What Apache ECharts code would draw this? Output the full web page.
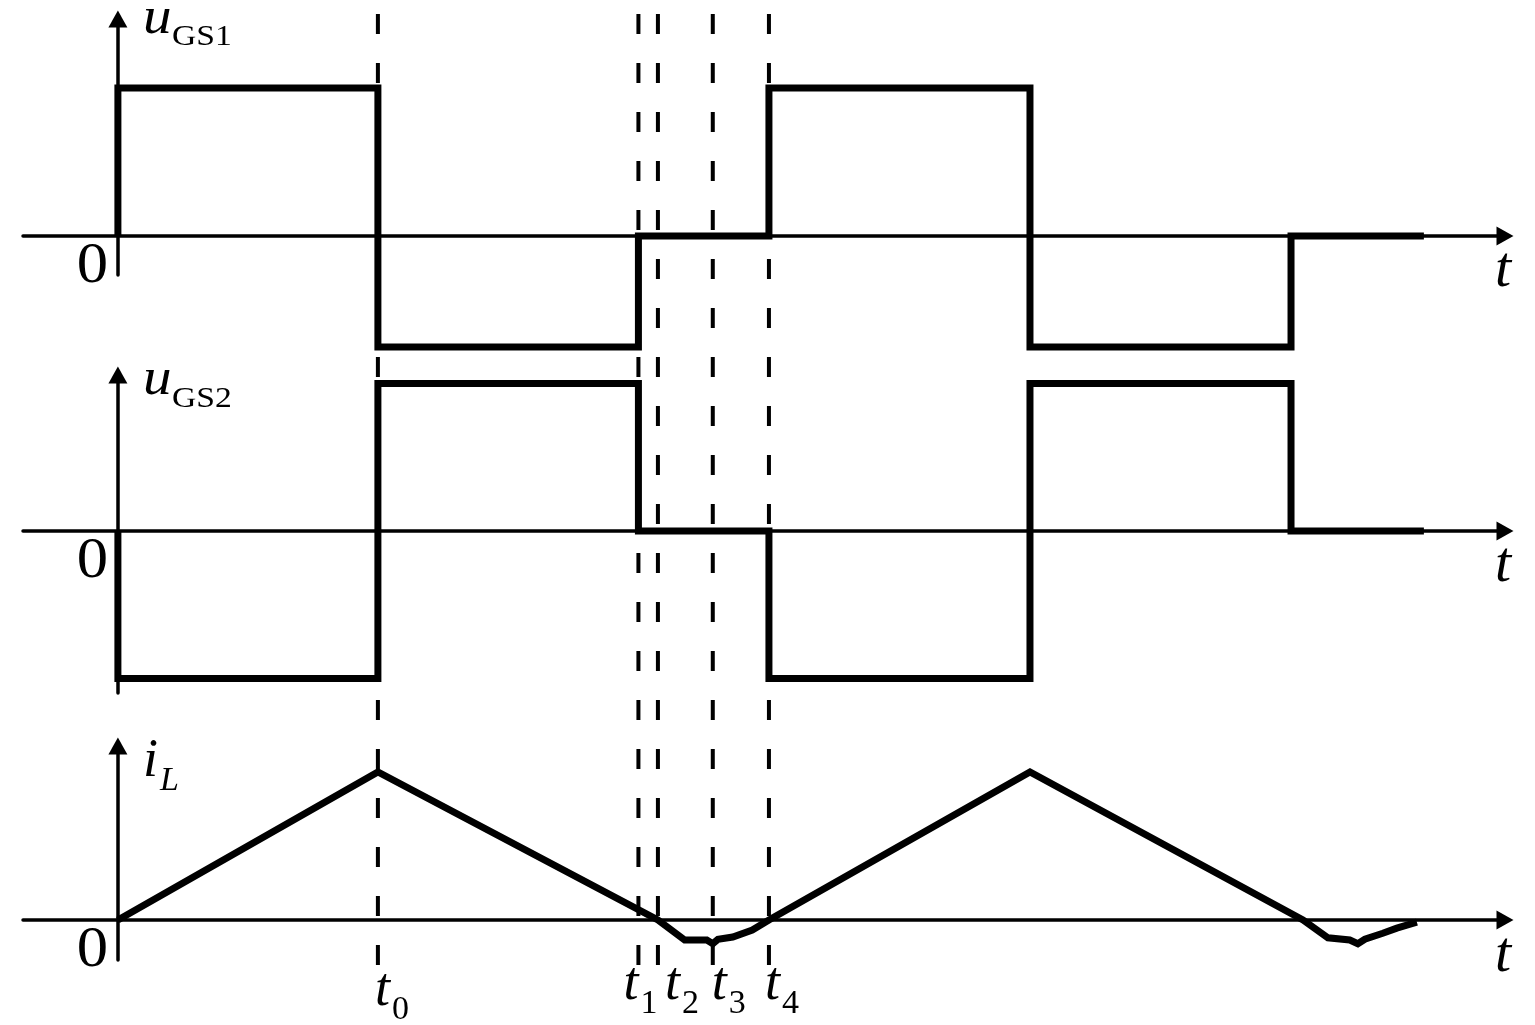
<!DOCTYPE html>
<html>
<head>
<meta charset="utf-8">
<script src="https://cdn.jsdelivr.net/npm/echarts@6/dist/echarts.min.js"></script>
<style>
html, body { margin: 0; padding: 0; background: #fff; }
#chart { width: 1535px; height: 1025px; }
</style>
</head>
<body>
<div id="chart"></div>
<script>
// time marks (arbitrary units) and their labels
var markNames = ['0', '1', '2', '3', '4'];
var markTimes = [100, 200.2, 207.7, 228.8, 250.4];

// switching edges shared by both gate signals, and the end of the trace
var edgeTimes = [0, 100, 200.2, 250.4, 350.8, 451.2];
var tEnd = 502.3;

// level before the first edge, then after each edge
var uGS1Levels = [0, 1, -0.75, 0, 1, -0.75, 0];
var uGS2Levels = [0, -1, 1, 0, -1, 1, 0];

// inductor current
var iLTimes = [0, 100, 207.7, 218, 226.5, 228.8, 230.8, 236.5, 244, 250.4,
    350.8, 455.8, 465.4, 473.8, 476.9, 479.6, 486.5, 491.9, 499.6];
var iLValues = [0, 1, 0, -0.135, -0.135, -0.16, -0.13, -0.115, -0.068, 0,
    1, 0, -0.12, -0.135, -0.16, -0.13, -0.09, -0.055, -0.015];

function stepPoints(edges, levels, end) {
    var pts = [];
    for (var i = 0; i < edges.length; i++) {
        pts.push([edges[i], levels[i]]);
        pts.push([edges[i], levels[i + 1]]);
    }
    pts.push([end, levels[levels.length - 1]]);
    return pts;
}

function pairs(xs, ys) {
    return xs.map(function (x, i) { return [x, ys[i]]; });
}

var X_MIN = -36.5, X_MAX = 533.5;
var FONT = '"Liberation Serif", "Times New Roman", serif';

var chart = echarts.init(document.getElementById('chart'));

function xAx(gi, show) {
    return {
        type: 'value', gridIndex: gi, min: X_MIN, max: X_MAX,
        axisLine: {
            show: show, onZero: true,
            symbol: ['none', 'triangle'], symbolSize: [19, 17],
            lineStyle: { color: '#000', width: 3.5 }
        },
        axisTick: { show: false }, axisLabel: { show: false }, splitLine: { show: false }
    };
}
function yAx(gi, min, max, show) {
    return {
        type: 'value', gridIndex: gi, min: min, max: max,
        axisLine: {
            show: show, onZero: true,
            symbol: ['none', 'triangle'], symbolSize: [19, 17],
            lineStyle: { color: '#000', width: 3.5 }
        },
        axisTick: { show: false }, axisLabel: { show: false }, splitLine: { show: false }
    };
}

var waveStyle = { color: '#000', width: 7, join: 'miter', cap: 'butt' };

var series = [
    { type: 'line', xAxisIndex: 0, yAxisIndex: 0, data: stepPoints(edgeTimes, uGS1Levels, tEnd),
      symbol: 'none', clip: false, lineStyle: waveStyle, z: 5 },
    { type: 'line', xAxisIndex: 1, yAxisIndex: 1, data: stepPoints(edgeTimes, uGS2Levels, tEnd),
      symbol: 'none', clip: false, lineStyle: waveStyle, z: 5 },
    { type: 'line', xAxisIndex: 2, yAxisIndex: 2, data: pairs(iLTimes, iLValues),
      symbol: 'none', clip: false, lineStyle: waveStyle, z: 5 }
];
markTimes.forEach(function (t) {
    series.push({
        type: 'line', xAxisIndex: 3, yAxisIndex: 3, data: [[t, 0], [t, 1]],
        symbol: 'none', clip: false, z: 3,
        lineStyle: { color: '#000', width: 4, type: [20, 29] }
    });
});

function txt(x, y, s, size, italic, align, sx) {
    return {
        type: 'text', x: x, y: y, z: 10, scaleX: sx || 1,
        style: {
            text: s, fill: '#000', align: align || 'left', verticalAlign: 'middle',
            font: (italic ? 'italic ' : '') + size + 'px ' + FONT
        }
    };
}

var labels = [
    txt(143, 19, 'u', 52, true, 'left', 1.1), txt(172, 37, 'GS1', 30, false, 'left', 1.12),
    txt(143, 380, 'u', 52, true, 'left', 1.1), txt(172, 399, 'GS2', 30, false, 'left', 1.12),
    txt(143, 762, 'i', 54, true), txt(160, 781, 'L', 34, true),
    txt(108, 267, '0', 58, false, 'right', 1.08),
    txt(108, 562, '0', 58, false, 'right', 1.08),
    txt(108, 951, '0', 58, false, 'right', 1.08),
    txt(1495, 271, 't', 58, true), txt(1495, 566, 't', 58, true), txt(1495, 956, 't', 58, true)
];

chart.setOption({
    backgroundColor: '#fff',
    animation: false,
    grid: [
        { left: 23, right: 30, top: 19, bottom: 750 },
        { left: 23, right: 30, top: 375, bottom: 332 },
        { left: 23, right: 30, top: 746, bottom: 65 },
        { left: 23, right: 30, top: 10, bottom: 60 }
    ],
    xAxis: [xAx(0, true), xAx(1, true), xAx(2, true), xAx(3, false)],
    yAxis: [
        yAx(0, -0.2635, 1.466, true),
        yAx(1, -1.0983, 1.0576, true),
        yAx(2, -0.2703, 1.1757, true),
        yAx(3, 0, 1, false)
    ],
    series: series,
    graphic: labels
});

// time-mark labels under the dashed lines
var nudge = [[-3, 4], [-15, -2], [7, -2], [-1, -2], [-4, -2]];
markTimes.forEach(function (t, i) {
    var px = chart.convertToPixel({ gridIndex: 3 }, [t, 0]);
    var x = px[0] + nudge[i][0];
    var y = 990 + nudge[i][1];
    labels.push(txt(x, y - 3, 't', 54, true));
    labels.push(txt(x + 17, y + 16, markNames[i], 34, false));
});
chart.setOption({ graphic: labels });
</script>
</body>
</html>
